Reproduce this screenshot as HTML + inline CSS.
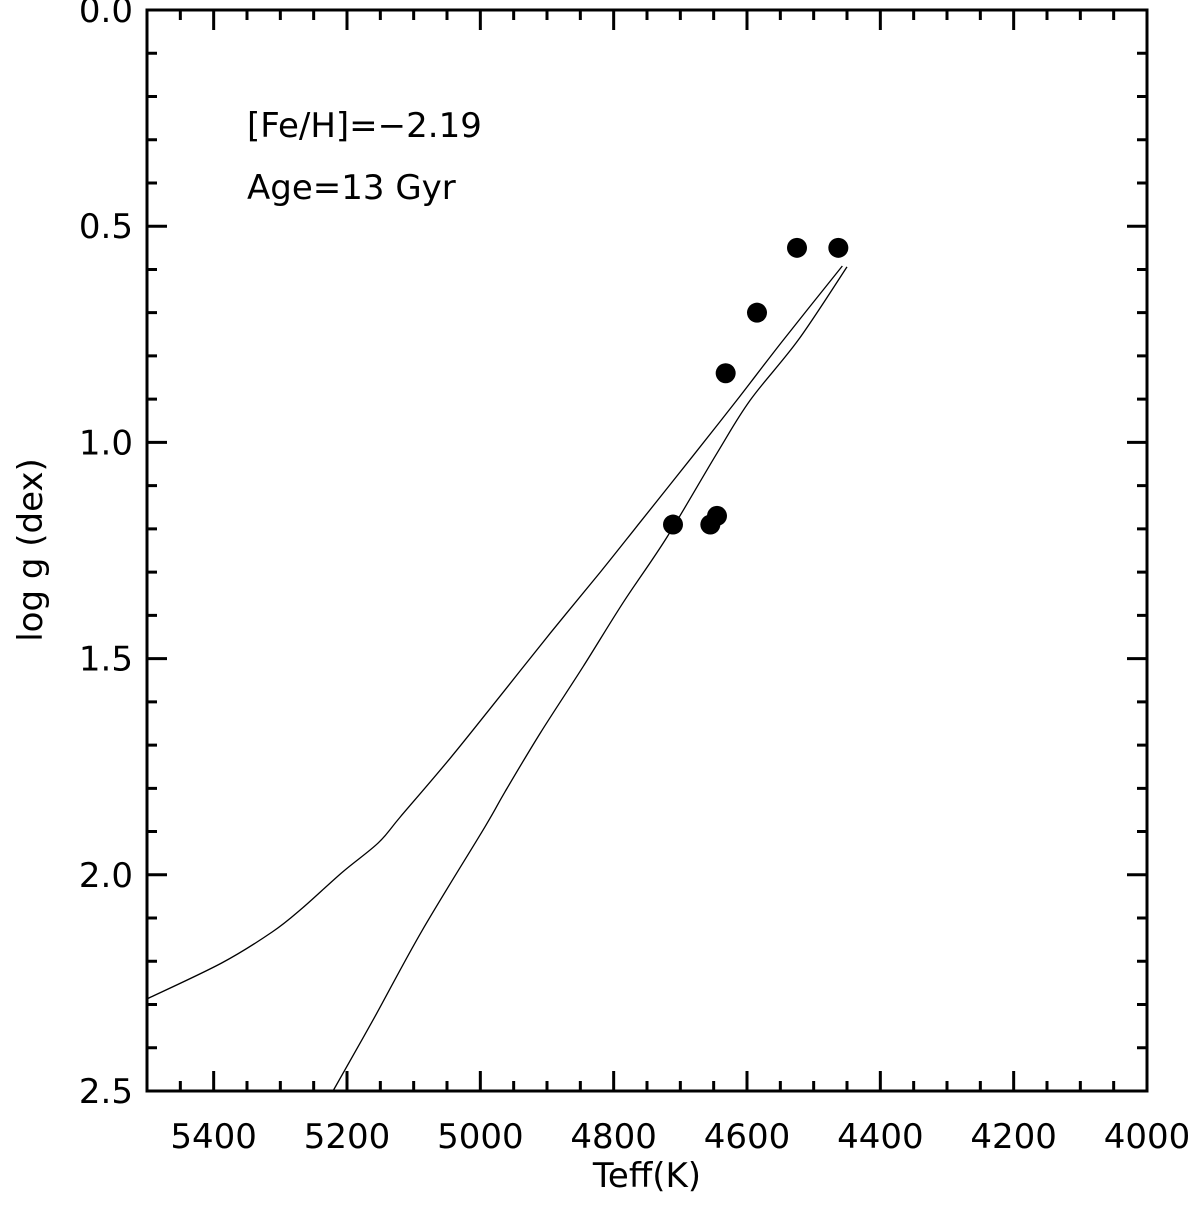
<!DOCTYPE html>
<html><head><meta charset="utf-8"><style>
body{margin:0;background:#fff}
svg text{font-family:"DejaVu Sans","Liberation Sans",sans-serif;fill:#000}
</style></head><body>
<svg id="chart" width="1200" height="1210">
<g id="ticks"></g>
<g id="marks"></g>
<text x="247" y="137" font-size="34">[Fe/H]=−2.19</text>
<text x="247" y="199" font-size="34">Age=13 Gyr</text>
<text x="647" y="1187" font-size="34" text-anchor="middle">Teff(K)</text>
<text transform="translate(42,550) rotate(-90)" font-size="34" text-anchor="middle">log g (dex)</text>
</svg>
<script>
const xTickLabels=[5400,5200,5000,4800,4600,4400,4200,4000];
const yTickLabels=["0.0","0.5","1.0","1.5","2.0","2.5"];
const starTeff=[4711,4655,4645,4632,4585,4525,4463];
const starLogg=[1.19,1.19,1.17,0.84,0.70,0.55,0.55];
const upperTeff=[5500,5388,5312,5267,5207,5153,5120,5045,4970,4895,4820,4760,4681,4615,4547,4457];
const upperLogg=[2.287,2.204,2.132,2.077,1.994,1.926,1.866,1.730,1.586,1.441,1.300,1.184,1.031,0.902,0.766,0.592];
const lowerTeff=[5221,5161,5087,4993,4963,4910,4846,4786,4720,4645,4595,4523,4450];
const lowerLogg=[2.5,2.336,2.128,1.889,1.808,1.672,1.519,1.371,1.219,1.025,0.902,0.763,0.594];
const L=147,R=1147,T=10,B=1091,X0=5500,X1=4000,Y0=0,Y1=2.5;
const sx=v=>L+(v-X0)/(X1-X0)*(R-L);
const sy=v=>T+(v-Y0)/(Y1-Y0)*(B-T);
const NS="http://www.w3.org/2000/svg";
function mk(tag,attrs,parent){const e=document.createElementNS(NS,tag);for(const k in attrs)e.setAttribute(k,attrs[k]);parent.appendChild(e);return e;}
const tk=document.getElementById('ticks'),mg=document.getElementById('marks');
const frame=mk('rect',{x:L,y:T,width:R-L,height:B-T,fill:'none',stroke:'#000','stroke-width':3},tk);


let d='';
for(let v=5500;v>=4000;v-=50){const x=sx(v);const major=(v%200===0);const len=major?20:10;d+=`M${x},${B}v${-len}M${x},${T}v${len}`;}
for(let i=0;i<=25;i++){const v=i/10;const y=sy(v);const len=(i%5===0)?20:10;d+=`M${L},${y}h${len}M${R},${y}h${-len}`;}
const tp=mk('path',{d:d,stroke:'#000','stroke-width':3,fill:'none'},tk);


xTickLabels.forEach(v=>{const t=mk('text',{x:sx(v),y:1148,'font-size':34,'text-anchor':'middle'},tk);t.textContent=v;

});
yTickLabels.forEach(v=>{const t=mk('text',{x:133,y:sy(+v)+12,'font-size':34,'text-anchor':'end'},tk);t.textContent=v;

});
function line(xs,ys,name){
  const P=xs.map((v,i)=>[sx(v),sy(ys[i])]);
  let s=`M${P[0][0]},${P[0][1]}`;
  for(let i=0;i<P.length-1;i++){
    const p0=P[Math.max(i-1,0)],p1=P[i],p2=P[i+1],p3=P[Math.min(i+2,P.length-1)];
    const c1=[p1[0]+(p2[0]-p0[0])/6,p1[1]+(p2[1]-p0[1])/6];
    const c2=[p2[0]-(p3[0]-p1[0])/6,p2[1]-(p3[1]-p1[1])/6];
    s+=`C${c1[0]},${c1[1]} ${c2[0]},${c2[1]} ${p2[0]},${p2[1]}`;
  }
  const p=mk('path',{d:s,fill:'none',stroke:'#000','stroke-width':1.3},mg);
  
  
}
line(upperTeff,upperLogg,'isochrone-agb-branch');
line(lowerTeff,lowerLogg,'isochrone-rgb-branch');
starTeff.forEach((v,i)=>{const c=mk('circle',{cx:sx(v),cy:sy(starLogg[i]),r:10,fill:'#000'},mg);

});
</script>
</body></html>
